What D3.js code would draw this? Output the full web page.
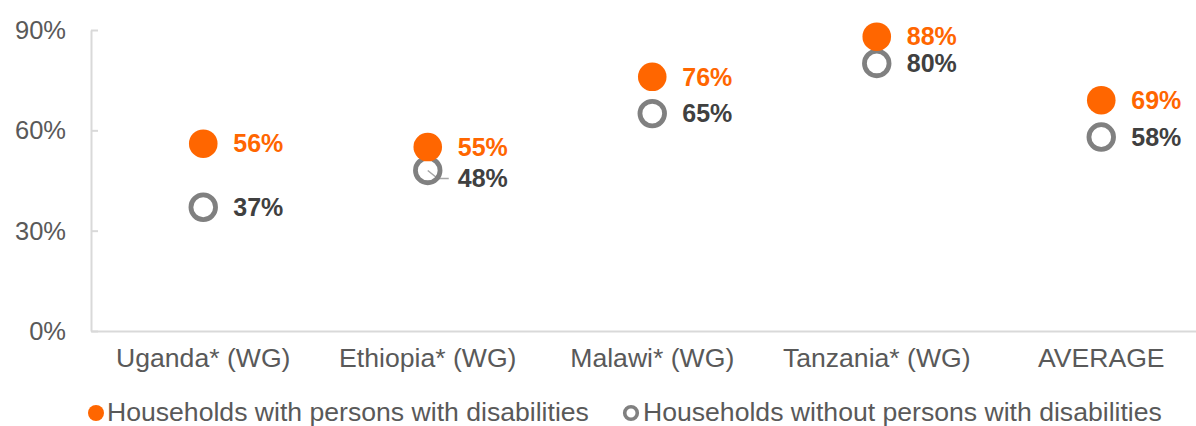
<!DOCTYPE html>
<html>
<head>
<meta charset="utf-8">
<script src="https://cdn.jsdelivr.net/npm/d3@7"></script>
<style>
  html, body { margin: 0; padding: 0; background: #fff; }
  svg { display: block; font-family: "Liberation Sans", Arial, sans-serif; }
</style>
</head>
<body>
<svg id="chart" width="1196" height="426"></svg>
<script>
// Share of households, by country
const categories = ["Uganda* (WG)", "Ethiopia* (WG)", "Malawi* (WG)", "Tanzania* (WG)", "AVERAGE"];
const withDisabilities = [0.56, 0.55, 0.76, 0.88, 0.69];
const withoutDisabilities = [0.37, 0.48, 0.65, 0.80, 0.58];
const yTicks = [0, 0.3, 0.6, 0.9];
const legendLabels = ["Households with persons with disabilities", "Households without persons with disabilities"];

const orange = "#FF6600";
const grey = "#808080";
const textGrey = "#595959";
const darkText = "#404040";
const labelSize = 26.6;
const valueSize = 25;

const svg = d3.select("#chart");
const plotLeft = 91, plotTop = 30, plotBottom = 331, bandW = 224.5;

const x = d3.scaleBand().domain(categories).range([plotLeft, plotLeft + bandW * categories.length]).padding(0);
const y = d3.scaleLinear().domain([0, 0.9]).range([plotBottom, plotTop]);

// y axis
const yAxis = svg.append("g").attr("transform", `translate(${plotLeft},0)`)
  .call(d3.axisRight(y).tickValues(yTicks).tickSize(7).tickSizeOuter(0).tickFormat(""));
yAxis.select(".domain").attr("stroke", "#d9d9d9").attr("stroke-width", 2);
yAxis.selectAll(".tick line").attr("stroke", "#d9d9d9").attr("stroke-width", 2);

svg.append("g").selectAll("text").data(yTicks).join("text")
  .attr("x", 66).attr("y", d => y(d)).attr("dy", "0.35em")
  .attr("text-anchor", "end").attr("font-size", 25.5).attr("fill", textGrey)
  .text(d3.format(".0%"));

// x axis
const xAxis = svg.append("g").attr("transform", `translate(0,${plotBottom})`)
  .call(d3.axisBottom(x).tickSize(0).tickPadding(17));
xAxis.select(".domain").attr("stroke", "#d9d9d9").attr("stroke-width", 2);
xAxis.selectAll("text").attr("font-size", labelSize).attr("fill", textGrey)
  .attr("font-family", "Liberation Sans, Arial, sans-serif");

const cx = d => x(d) + x.bandwidth() / 2;
const fmt = d3.format(".0%");

// leader line for the Ethiopia label that sits below its point
const eth = categories[1];
svg.append("polyline")
  .attr("points", [[cx(eth), y(withoutDisabilities[1])], [cx(eth) + 10, y(withoutDisabilities[1]) + 8], [cx(eth) + 21, y(withoutDisabilities[1]) + 8]].map(p => p.join(",")).join(" "))
  .attr("fill", "none").attr("stroke", "#a6a6a6").attr("stroke-width", 1.5);

// households without persons with disabilities: hollow circles
svg.append("g").selectAll("circle").data(categories).join("circle")
  .attr("cx", cx).attr("cy", (d, i) => y(withoutDisabilities[i]))
  .attr("r", 12.3).attr("fill", "none").attr("stroke", grey).attr("stroke-width", 4.8);

// households with persons with disabilities: filled circles
svg.append("g").selectAll("circle").data(categories).join("circle")
  .attr("cx", cx).attr("cy", (d, i) => y(withDisabilities[i]))
  .attr("r", 14.3).attr("fill", orange);

// value labels
const labelOffset = [0, 8, 0, 0, 0];
svg.append("g").selectAll("text").data(categories).join("text")
  .attr("x", d => cx(d) + 30).attr("y", (d, i) => y(withDisabilities[i]))
  .attr("dy", "0.35em").attr("font-size", valueSize).attr("font-weight", "bold").attr("fill", orange)
  .text((d, i) => fmt(withDisabilities[i]));
svg.append("g").selectAll("text").data(categories).join("text")
  .attr("x", d => cx(d) + 30).attr("y", (d, i) => y(withoutDisabilities[i]) + labelOffset[i])
  .attr("dy", "0.35em").attr("font-size", valueSize).attr("font-weight", "bold").attr("fill", darkText)
  .text((d, i) => fmt(withoutDisabilities[i]));

// legend
const lg = svg.append("g");
lg.append("circle").attr("cx", 96).attr("cy", 413).attr("r", 8).attr("fill", orange);
lg.append("text").attr("x", 107).attr("y", 412).attr("dy", "0.35em")
  .attr("font-size", labelSize).attr("fill", textGrey).text(legendLabels[0]);
lg.append("circle").attr("cx", 631).attr("cy", 413).attr("r", 6.3).attr("fill", "none")
  .attr("stroke", grey).attr("stroke-width", 3.6);
lg.append("text").attr("x", 643).attr("y", 412).attr("dy", "0.35em")
  .attr("font-size", labelSize).attr("fill", textGrey).text(legendLabels[1]);
</script>
</body>
</html>
